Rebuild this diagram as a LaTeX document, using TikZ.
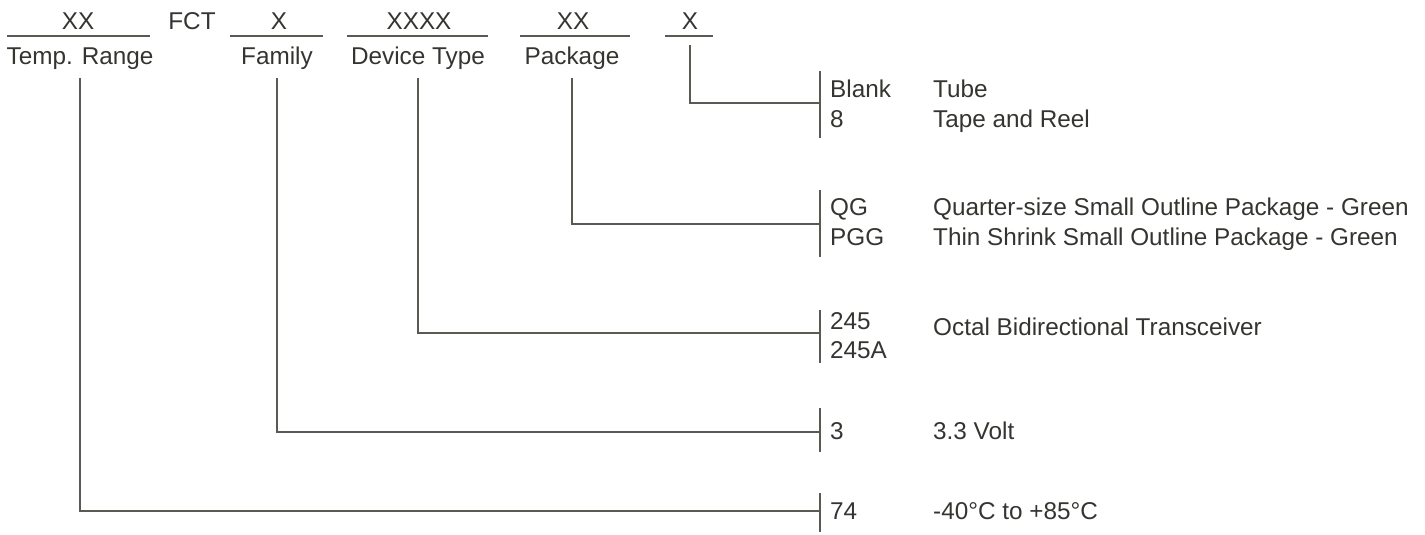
\documentclass[tikz,border=0pt]{standalone}
\usepackage{fontspec}
\setmainfont{Liberation Sans}
\definecolor{txt}{RGB}{52,52,48}
\definecolor{ln}{RGB}{90,90,85}
\begin{document}
\begin{tikzpicture}[x=1pt,y=-1pt,
  lbl/.style={font=\fontsize{24.3}{28}\selectfont, text=txt, inner sep=0pt, anchor=base},
  code/.style={lbl, anchor=base west},
  wire/.style={draw=ln, line width=1.3pt},
  uline/.style={draw=ln, line width=1.1pt}]
\useasboundingbox (0,0) rectangle (1425,535);
% header fields
\node[lbl] (xx1) at (78,30) {XX};
\node[lbl] (fct) at (192,30) {FCT};
\node[lbl] (x1) at (279,30) {X};
\node[lbl] (xxxx) at (419,30) {XXXX};
\node[lbl] (xx2) at (573,30) {XX};
\node[lbl] (x2) at (690,30) {X};
\draw[uline] (7,36) -- (150,36);
\draw[uline] (230,36) -- (323,36);
\draw[uline] (347,36) -- (488,36);
\draw[uline] (520,36) -- (630,36);
\draw[uline] (665,36) -- (713,36);
\node[lbl] (temp) at (80,65) {Temp. Range};
\node[lbl] (fam) at (277,65) {Family};
\node[lbl] (dev) at (418,65) {Device Type};
\node[lbl] (pkg) at (572,65) {Package};
% start points of leaders
\coordinate (s1) at (80,78);
\coordinate (s2) at (277,78);
\coordinate (s3) at (418,78);
\coordinate (s4) at (572,78);
\coordinate (s5) at (690,45);
% bracket join points
\coordinate (j1) at (820,103);
\coordinate (j2) at (820,224);
\coordinate (j3) at (820,333);
\coordinate (j4) at (820,432);
\coordinate (j5) at (820,511);
% brackets
\draw[wire] (820,71) -- (820,138);
\draw[wire] (820,190) -- (820,257);
\draw[wire] (820,310) -- (820,363);
\draw[wire] (820,408) -- (820,452);
\draw[wire] (820,493) -- (820,532);
% leaders
\draw[wire] (s5) |- (j1);
\draw[wire] (s4) |- (j2);
\draw[wire] (s3) |- (j3);
\draw[wire] (s2) |- (j4);
\draw[wire] (s1) |- (j5);
% options
\node[code] (c1a) at (830,97) {Blank};
\node[code] (c1b) at (830,127) {8};
\node[code] (d1a) at (933,97) {Tube};
\node[code] (d1b) at (933,127) {Tape and Reel};
\node[code] (c2a) at (830,215) {QG};
\node[code] (c2b) at (830,245) {PGG};
\node[code] (d2a) at (933,215) {Quarter-size Small Outline Package - Green};
\node[code] (d2b) at (933,245) {Thin Shrink Small Outline Package - Green};
\node[code] (c3a) at (830,329) {245};
\node[code] (c3b) at (830,358) {245A};
\node[code] (d3) at (933,335) {Octal Bidirectional Transceiver};
\node[code] (c4) at (830,439) {3};
\node[code] (d4) at (933,439) {3.3 Volt};
\node[code] (c5) at (830,519) {74};
\node[code] (d5) at (933,519) {-40°C to +85°C};
\end{tikzpicture}
\end{document}
